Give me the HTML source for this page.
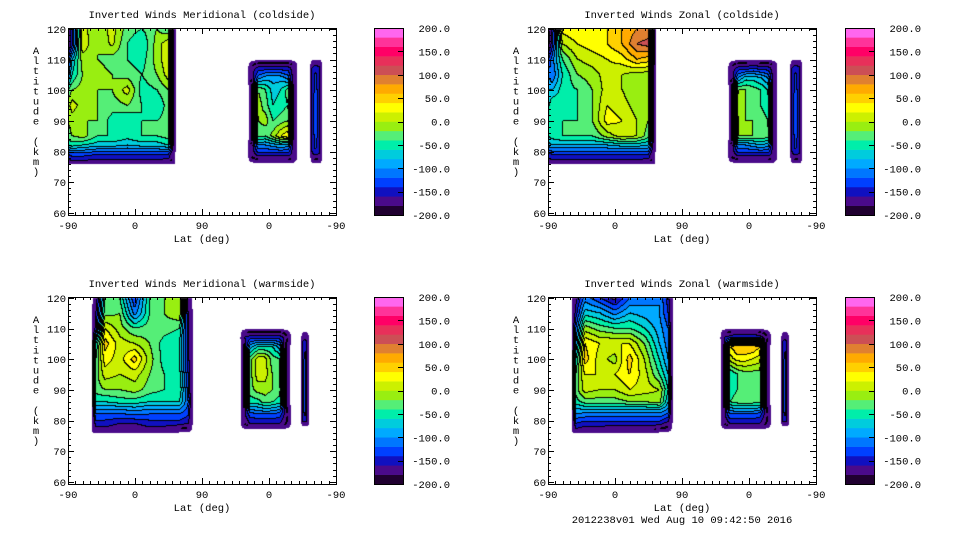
<!DOCTYPE html>
<html><head><meta charset="utf-8">
<style>
html,body{margin:0;padding:0;background:#fff;width:960px;height:540px;overflow:hidden}
#root{position:relative;width:960px;height:540px}
canvas{position:absolute}
svg{position:absolute;left:0;top:0}
text{font-family:"Liberation Mono",monospace;font-size:10.5px;fill:#000}
</style></head>
<body>
<div id="root">
<svg id="ov" width="960" height="540"></svg>
</div>
<script>
// ---- colour scale ----
const bandLevels = [-200,-180,-160,-140,-120,-100,-80,-60,-40,-20,0,20,40,60,80,100,120,140,160,180,200];
const bandColors = ["#200030","#4a0a8a","#1010c0","#0040ff","#0077ff","#00aaff","#00ccdd","#00eeaa","#55ee77","#99ee11","#ccf000","#ffff00","#ffd000","#ffaa00","#e08030","#cc4f55","#e8305a","#ff0066","#ff3399","#ff66ee"];
const cbarLabels = ["200.0","150.0","100.0","50.0","0.0","-50.0","-100.0","-150.0","-200.0"];
const cbarValues = [200,150,100,50,0,-50,-100,-150,-200];
const xTickLabels = ["-90","0","90","0","-90"];
const xTickPos = [0,90,180,270,360];
const yTickLabels = ["60","70","80","90","100","110","120"];
const yTickVals = [60,70,80,90,100,110,120];

// ---- data grids (lat-position u 0..360, altitude km); values below -200 are outside the retrieval ----
const tlA_lats = [0,6,20,40,60,80,100,120,135,145];
const tlA_alts = [120,115,110,105,100,95,90,85,82,79,76];
const tlA_vals = [
[-195,-150,10,-20,10,-30,-40,-20,-40,-205],
[-195,-150,15,-20,5,-40,-60,-10,15,-205],
[-150,-80,-10,-20,-30,-40,-50,-10,15,-205],
[-120,-60,-20,-10,-20,-30,-40,-20,10,-205],
[-40,-20,-10,-20,-20,10,-50,-40,-20,-205],
[-10,10,-10,-20,-30,-20,-40,-60,-30,-205],
[-20,-10,-20,-20,-50,-60,-40,-40,-30,-205],
[-30,-20,-10,-40,-40,-50,-40,-40,-30,-205],
[-60,-50,-60,-70,-70,-80,-70,-70,-60,-205],
[-140,-130,-130,-140,-140,-140,-140,-140,-140,-205],
[-175,-175,-175,-175,-175,-175,-175,-175,-180,-205]];
const tlB_lats = [241,248,256,266,276,286,296,303,309];
const tlB_alts = [110,107,104,100,95,90,85,82,79,76];
const tlB_vals = [
[-205,-205,-203,-203,-203,-203,-203,-205,-205],
[-205,-170,-150,-150,-150,-150,-150,-170,-205],
[-205,-170,-110,-90,-90,-90,-110,-170,-205],
[-205,-190,-20,-40,-70,-60,-30,-190,-205],
[-205,-190,-10,-30,-60,-50,-40,-190,-205],
[-205,-190,-20,-10,-40,-30,-20,-190,-205],
[-205,-190,-30,-40,-10,20,40,-190,-205],
[-205,-170,-100,-100,-90,-80,-90,-170,-205],
[-205,-170,-150,-150,-150,-150,-150,-170,-205],
[-205,-205,-205,-203,-203,-203,-203,-205,-205]];
const topS_lats = [325,329,333,338,342];
const topS_alts = [110,107,98,86,80,76];
const topS_vals = [
[-205,-203,-203,-203,-205],
[-205,-150,-140,-150,-205],
[-205,-150,-130,-150,-205],
[-205,-150,-130,-150,-205],
[-205,-150,-140,-150,-205],
[-205,-203,-203,-203,-205]];

const trA_lats = [0,6,20,40,60,80,100,120,135,145];
const trA_alts = [120,115,110,105,100,95,90,85,82,79,76];
const trA_vals = [
[-195,-160,30,40,40,40,60,80,80,-205],
[-195,-150,0,20,30,40,60,100,110,-205],
[-150,-110,-40,0,10,20,30,60,50,-205],
[-100,-120,-60,-20,-10,10,0,-10,-10,-205],
[-80,-80,-50,-40,-20,10,0,-20,-20,-205],
[-70,-40,-50,-40,-20,20,10,-10,-20,-205],
[-60,-40,-40,-40,-20,30,20,0,-20,-205],
[-60,-50,-40,-40,-40,-10,10,0,-30,-205],
[-90,-80,-80,-80,-80,-80,-70,-70,-80,-205],
[-150,-140,-140,-140,-140,-140,-140,-140,-140,-205],
[-175,-175,-175,-175,-175,-175,-175,-175,-180,-205]];
const trB_lats = [241,248,256,266,276,286,296,303,309];
const trB_alts = [110,107,104,100,95,90,85,82,79,76];
const trB_vals = [
[-205,-205,-203,-203,-203,-203,-203,-205,-205],
[-205,-170,-150,-150,-140,-150,-150,-170,-205],
[-205,-170,-100,-70,-70,-80,-100,-170,-205],
[-205,-190,-20,-20,-30,-40,-60,-170,-205],
[-205,-190,-10,-20,-30,-40,-50,-180,-205],
[-205,-190,-20,-20,-20,-30,-40,-180,-205],
[-205,-190,-20,-20,-20,-20,-30,-180,-205],
[-205,-170,-100,-100,-90,-80,-90,-170,-205],
[-205,-170,-150,-150,-150,-150,-150,-170,-205],
[-205,-205,-205,-203,-203,-203,-203,-205,-205]];

const blA_lats = [32,38,50,70,90,110,130,150,162,168];
const blA_alts = [120,115,110,105,100,95,90,86,83,79,76];
const blA_vals = [
[-205,-180,-40,-40,-140,-40,-20,0,-180,-205],
[-205,-160,-30,-20,-110,-40,-20,0,-160,-205],
[-205,-150,20,-10,-40,-30,-30,-40,-150,-205],
[-205,-60,50,10,0,-20,-50,-60,-150,-205],
[-205,-40,30,10,50,-10,-50,-60,-150,-205],
[-205,-30,10,0,10,-20,-40,-50,-140,-205],
[-205,-30,-20,-20,-10,-30,-40,-40,-130,-205],
[-205,-60,-60,-50,-50,-60,-60,-60,-120,-205],
[-205,-110,-110,-110,-100,-110,-110,-110,-130,-205],
[-205,-150,-150,-160,-160,-150,-150,-150,-160,-205],
[-205,-175,-175,-180,-180,-175,-180,-203,-205,-205]];
const blB_lats = [231,237,245,255,265,275,285,293,301];
const blB_alts = [110,107,104,100,95,90,86,82,79,77];
const blB_vals = [
[-205,-205,-203,-203,-203,-203,-203,-205,-205],
[-205,-160,-150,-150,-150,-150,-150,-170,-205],
[-205,-190,-90,-60,-60,-60,-90,-190,-205],
[-205,-190,-30,10,10,-30,-40,-190,-205],
[-205,-190,-30,10,10,-20,-40,-190,-205],
[-205,-190,-30,-10,-10,-20,-30,-190,-205],
[-205,-190,-50,-50,-30,-40,-50,-190,-205],
[-205,-170,-130,-120,-120,-120,-130,-170,-205],
[-205,-180,-160,-160,-160,-160,-160,-180,-205],
[-205,-205,-204,-204,-203,-203,-203,-205,-205]];
const botS_lats = [313,316,318.5,321,324];
const botS_alts = [109,105,95,85,80,78];
const botS_vals = [
[-205,-203,-203,-203,-205],
[-205,-150,-140,-150,-205],
[-205,-150,-130,-150,-205],
[-205,-150,-130,-150,-205],
[-205,-150,-140,-150,-205],
[-205,-203,-203,-203,-205]];

const brA_lats = [32,38,50,70,90,110,130,150,162,168];
const brA_alts = [120,115,110,105,100,95,90,86,83,79,76];
const brA_vals = [
[-205,-170,-110,-140,-170,-120,-110,-100,-150,-205],
[-205,-150,-70,-80,-110,-80,-90,-100,-140,-205],
[-205,-120,-10,-30,-40,-40,-60,-90,-120,-205],
[-205,-100,40,20,20,20,-20,-80,-110,-205],
[-205,-60,50,10,-10,50,0,-60,-100,-205],
[-205,-40,20,20,20,40,10,-40,-80,-205],
[-205,-30,10,0,0,20,10,0,-60,-205],
[-205,-50,-30,-30,-30,-20,-20,-10,-80,-205],
[-205,-90,-90,-90,-90,-90,-90,-90,-110,-205],
[-205,-140,-150,-150,-150,-150,-150,-150,-170,-205],
[-205,-175,-180,-180,-185,-185,-185,-203,-205,-205]];
const brB_lats = [231,237,245,255,265,275,285,293,301];
const brB_alts = [110,107,104,100,95,90,86,82,79,77];
const brB_vals = [
[-205,-205,-203,-203,-203,-203,-203,-205,-205],
[-205,-160,-150,-140,-140,-140,-150,-170,-205],
[-205,-190,40,60,60,60,40,-190,-205],
[-205,-190,10,30,30,20,10,-190,-205],
[-205,-190,-60,-40,-30,-30,-30,-190,-205],
[-205,-190,-50,-40,-30,-20,-20,-190,-205],
[-205,-190,-40,-30,-30,-30,-30,-190,-205],
[-205,-170,-120,-120,-120,-120,-130,-170,-205],
[-205,-180,-160,-160,-160,-160,-160,-180,-205],
[-205,-205,-204,-204,-203,-203,-203,-205,-205]];

const panels = [
 {name:"meridional-coldside",title:"Inverted Winds Meridional (coldside)",px:68,py:28,cb:374,grids:[[tlA_lats,tlA_alts,tlA_vals],[tlB_lats,tlB_alts,tlB_vals],[topS_lats,topS_alts,topS_vals]]},
 {name:"zonal-coldside",title:"Inverted Winds Zonal (coldside)",px:548,py:28,cb:845,grids:[[trA_lats,trA_alts,trA_vals],[trB_lats,trB_alts,trB_vals],[topS_lats,topS_alts,topS_vals]]},
 {name:"meridional-warmside",title:"Inverted Winds Meridional (warmside)",px:68,py:297,cb:374,grids:[[blA_lats,blA_alts,blA_vals],[blB_lats,blB_alts,blB_vals],[botS_lats,botS_alts,botS_vals]]},
 {name:"zonal-warmside",title:"Inverted Winds Zonal (warmside)",px:548,py:297,cb:845,grids:[[brA_lats,brA_alts,brA_vals],[brB_lats,brB_alts,brB_vals],[botS_lats,botS_alts,botS_vals]]}
];

const PW=268, PH=187, ALT_TOP=120.3, ALT_BOT=59.3;
const xScale = u => u/360*PW;
const yScale = a => (ALT_TOP-a)/(ALT_TOP-ALT_BOT)*PH;
const uOf = x => x/PW*360;
const aOf = y => ALT_TOP - y/PH*(ALT_TOP-ALT_BOT);

function sample(g,u,a){
  const [lats,alts,vals]=g;
  if(u<lats[0]||u>lats[lats.length-1]||a>alts[0]||a<alts[alts.length-1]) return null;
  let i=0; while(i<lats.length-2 && u>lats[i+1]) i++;
  let j=0; while(j<alts.length-2 && a<alts[j+1]) j++;
  const tx=(u-lats[i])/(lats[i+1]-lats[i]), ty=(alts[j]-a)/(alts[j]-alts[j+1]);
  const v00=vals[j][i],v10=vals[j][i+1],v01=vals[j+1][i],v11=vals[j+1][i+1];
  return (v00*(1-tx)+v10*tx)*(1-ty)+(v01*(1-tx)+v11*tx)*ty;
}
function bandOf(v){
  let b=0; while(b<bandColors.length-1 && v>=bandLevels[b+1]) b++;
  return b;
}
function hex(c){return [parseInt(c.substr(1,2),16),parseInt(c.substr(3,2),16),parseInt(c.substr(5,2),16)];}
const rgb = bandColors.map(hex);

const root=document.getElementById('root');
const svg=document.getElementById('ov');
const NS="http://www.w3.org/2000/svg";
function mk(tag,attrs,parent){const e=document.createElementNS(NS,tag);for(const k in attrs)e.setAttribute(k,attrs[k]);(parent||svg).appendChild(e);return e;}

panels.forEach(p=>{
  const cv=document.createElement('canvas');
  cv.width=PW; cv.height=PH;
  cv.style.left=p.px+'px'; cv.style.top=p.py+'px';
  
  
  root.insertBefore(cv, svg);
  const ctx=cv.getContext('2d');
  const img=ctx.createImageData(PW,PH);
  const band=new Int16Array(PW*PH).fill(-1);
  for(let y=0;y<PH;y++)for(let x=0;x<PW;x++){
    const u=uOf(x+0.5), a=aOf(y+0.5);
    for(const g of p.grids){const v=sample(g,u,a); if(v!==null){ if(v>=-200) band[y*PW+x]=bandOf(v); break;}}
  }
  // outer rim: band-0 pixels near the empty region drawn as purple rim
  const R=3;
  function nearEmpty(x,y){
    for(let dy=-R;dy<=R;dy++)for(let dx=-R;dx<=R;dx++){
      const xx=x+dx, yy=y+dy;
      if(xx<0||yy<0||xx>=PW||yy>=PH) continue;
      if(band[yy*PW+xx]<0) return true;
    }
    return false;
  }
  const fin=new Int16Array(band);
  for(let y=0;y<PH;y++)for(let x=0;x<PW;x++){
    if(band[y*PW+x]===0 && nearEmpty(x,y)) fin[y*PW+x]=1;
  }
  for(let y=0;y<PH;y++)for(let x=0;x<PW;x++){
    const b=fin[y*PW+x], k=(y*PW+x)*4;
    if(b<0){img.data[k+3]=0;continue;}
    let c=rgb[b];
    const r=x+1<PW?fin[y*PW+x+1]:-1, d=y+1<PH?fin[(y+1)*PW+x]:-1;
    if((r>=0&&r!==b)||(d>=0&&d!==b)) c=[0,0,0];
    img.data[k]=c[0];img.data[k+1]=c[1];img.data[k+2]=c[2];img.data[k+3]=255;
  }
  ctx.putImageData(img,0,0);

  const grp=mk('g',{});
  
  
  const t=mk('text',{x:p.px+PW/2,y:p.py-10,'text-anchor':'middle'},grp);
  t.textContent=p.title;
  
  
  const fr=mk('rect',{x:p.px+0.5,y:p.py+0.5,width:PW,height:PH,fill:'none',stroke:'#000','stroke-width':1},grp);
  
  
  for(let u=0;u<=360;u+=10){
    const X=Math.round(p.px+xScale(u))+0.5, L=(u%90===0)?6:3;
    mk('line',{x1:X,x2:X,y1:p.py+PH,y2:p.py+PH-L,stroke:'#000'},grp);
    mk('line',{x1:X,x2:X,y1:p.py,y2:p.py+L,stroke:'#000'},grp);
  }
  xTickPos.forEach((u,i)=>{
    const tl=mk('text',{x:p.px+xScale(u),y:p.py+PH+14,'text-anchor':'middle'},grp);
    tl.textContent=xTickLabels[i];
    
    
  });
  const xt=mk('text',{x:p.px+PW/2,y:p.py+PH+27,'text-anchor':'middle'},grp);
  xt.textContent="Lat (deg)";
  
  
  for(let a=60;a<=120;a+=2){
    const Y=Math.round(p.py+yScale(a))+0.5, L=(a%10===0)?6:3;
    mk('line',{x1:p.px,x2:p.px+L,y1:Y,y2:Y,stroke:'#000'},grp);
    mk('line',{x1:p.px+PW,x2:p.px+PW-L,y1:Y,y2:Y,stroke:'#000'},grp);
  }
  yTickVals.forEach((a,i)=>{
    const tl=mk('text',{x:p.px-2,y:p.py+yScale(a)+4,'text-anchor':'end'},grp);
    tl.textContent=yTickLabels[i];
    
    
  });
  const yt=mk('g',{},grp);
  
  
  "Altitude (km)".split('').forEach((ch,i)=>{
    const c=mk('text',{x:p.px-32,y:p.py+26+i*10.1,'text-anchor':'middle'},yt);
    c.textContent=ch;
  });
  const cbg=mk('g',{},grp);
  
  
  const cbW=29;
  const cbY=v=>p.py+(200-v)/400*PH;
  bandColors.forEach((c,i)=>{
    const y1=cbY(bandLevels[i+1]), y2=cbY(bandLevels[i]);
    mk('rect',{x:p.cb,y:y1,width:cbW,height:y2-y1+0.3,fill:c},cbg);
  });
  mk('rect',{x:p.cb+0.5,y:p.py+0.5,width:cbW,height:PH,fill:'none',stroke:'#000'},cbg);
  cbarValues.forEach((v,i)=>{
    const Y=Math.round(cbY(v))+0.5;
    mk('line',{x1:p.cb+cbW-5,x2:p.cb+cbW,y1:Y,y2:Y,stroke:'#000'},cbg);
    const tl=mk('text',{x:p.cb+76,y:cbY(v)+4,'text-anchor':'end'},cbg);
    tl.textContent=cbarLabels[i];
  });
});
const ft=mk('text',{x:682,y:523,'text-anchor':'middle'});
ft.textContent="2012238v01 Wed Aug 10 09:42:50 2016";


</script>
</body></html>
